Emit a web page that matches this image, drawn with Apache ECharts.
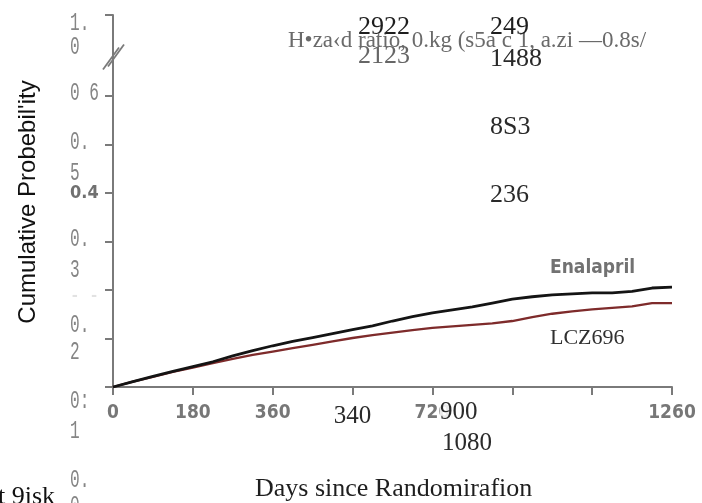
<!DOCTYPE html>
<html>
<head>
<meta charset="utf-8">
<script src="https://cdn.jsdelivr.net/npm/echarts@6/dist/echarts.min.js"></script>
<style>
  html, body { margin: 0; padding: 0; background: #fff; }
  #chart { width: 702px; height: 503px; }
</style>
</head>
<body>
<div id="chart"></div>
<script>
// Follow-up time (days since randomization) at which the curves are sampled
const days = [0, 45, 90, 135, 180, 225, 270, 315, 360, 405, 450, 495, 540, 585, 630,
  675, 720, 765, 810, 855, 900, 945, 990, 1035, 1080, 1125, 1170, 1215, 1260];

// Cumulative probability, enalapril arm
const enalapril = [0, 0.011, 0.022, 0.032, 0.042, 0.052, 0.064, 0.075, 0.085, 0.094,
  0.102, 0.110, 0.118, 0.126, 0.136, 0.145, 0.153, 0.159, 0.165, 0.173,
  0.181, 0.186, 0.190, 0.192, 0.194, 0.194, 0.197, 0.204, 0.206];

// Cumulative probability, LCZ696 arm
const lcz696 = [0, 0.011, 0.021, 0.031, 0.040, 0.049, 0.058, 0.066, 0.073, 0.080,
  0.087, 0.094, 0.101, 0.107, 0.112, 0.117, 0.122, 0.125, 0.128, 0.131,
  0.136, 0.144, 0.151, 0.156, 0.160, 0.163, 0.166, 0.173, 0.173];

// X axis tick labels (one per 180-day tick) and their text style
const xTickText = ['0', '180', '360', '340', '720', '', '', '1260'];
const xTickStyle = ['o', 'o', 'o', 's', 'o', 'o', 'o', 'o'];

// Y axis tick values and labels
const yTickValues = [0, 0.1, 0.2, 0.3, 0.4, 0.5, 0.6, 1.0];
const yTickText = ['0:\n1', '0.\n2', '- -', '0.\n3', '0.4', '0.\n5', '0 6', '1.\n0'];
const yTickStyle = ['m', 'm', 'f', 'm', 'b', 'm', 'm', 'm'];
// Extra label printed below the lowest tick
const yExtraText = '0.\n0';

// Numbers at risk and annotations printed over the plot
const atRiskA = ['2922', '2123'];
const atRiskB = ['249', '1488', '8S3', '236'];
const xOverText = ['900', '1080'];
const headerText = 'H\u2022za\u2039d ratio, 0.kg (s5a c 1, a.zi \u20140.8s/';
const xTitle = 'Days since Randomirafion';
const yTitle = "Cumulative Probebil'ity";

const chart = echarts.init(document.getElementById('chart'), null, { renderer: 'canvas' });

const serif = 'Liberation Serif';
const mono = 'Liberation Mono';
const axisGray = '#7a7a7a';

function xLabel(v) {
  const i = Math.round(v / 180);
  if (Math.abs(i * 180 - v) > 1e-6 || !xTickText[i]) return '';
  return '{' + xTickStyle[i] + '|' + xTickText[i] + '}';
}

const option = {
  animation: false,
  backgroundColor: '#fff',
  grid: { left: 113, right: 30, top: 15, bottom: 116, containLabel: false },
  xAxis: {
    type: 'value',
    min: 0, max: 1260, interval: 180,
    axisLine: { show: true, lineStyle: { color: axisGray, width: 2 } },
    axisTick: { show: true, inside: false, length: 8, lineStyle: { color: axisGray, width: 2 } },
    splitLine: { show: false },
    axisLabel: {
      margin: 17,
      formatter: xLabel,
      rich: {
        o: { fontFamily: 'DejaVu Sans Condensed', fontWeight: 'bold', fontSize: 19, color: '#777' },
        s: { fontFamily: serif, fontSize: 25, color: '#2a2a2a' }
      }
    }
  },
  yAxis: {
    type: 'value',
    min: 0, max: 1.0, interval: 0.1,
    breaks: [{ start: 0.65, end: 0.95, gap: '8.7%' }],
    breakArea: { show: false },
    axisLine: { show: true, lineStyle: { color: axisGray, width: 2 } },
    axisTick: { show: true, length: 8, customValues: yTickValues, lineStyle: { color: axisGray, width: 2 } },
    splitLine: { show: false },
    axisLabel: { show: false }
  },
  series: [
    {
      name: 'Enalapril', type: 'line', showSymbol: false, z: 3,
      data: days.map((d, i) => [d, enalapril[i]]),
      lineStyle: { color: '#141414', width: 2.8 }
    },
    {
      name: 'LCZ696', type: 'line', showSymbol: false, z: 2,
      data: days.map((d, i) => [d, lcz696[i]]),
      lineStyle: { color: '#7e2b2b', width: 2.3 }
    }
  ]
};

chart.setOption(option);

const origin = chart.convertToPixel({ gridIndex: 0 }, [0, 0]);
const ax = origin[0];
const yPx = v => chart.convertToPixel({ gridIndex: 0 }, [0, v])[1];

function txt(x, y, text, style, extra) {
  return Object.assign({ type: 'text', left: x, top: y, z: 20,
    style: Object.assign({ text: text, fill: '#222', font: '26px "' + serif + '"' }, style) }, extra || {});
}

// Y tick labels: narrow monospace lines stacked under each tick
const labelFirstDy = [14, -13, 6, -2, 0, -2, -3, 8];
const labelGap = [30, 27, 0, 31, 0, 31, 0, 24];
const graphics = [];

function monoLines(text, cy, gap, fill) {
  text.split('\n').forEach((line, k) => {
    graphics.push({
      type: 'text', z: 20, x: 70, y: cy + k * gap, scaleX: 0.62,
      style: { text: line, fill: fill, font: '26px "' + mono + '"', align: 'left', verticalAlign: 'middle' }
    });
  });
}

yTickValues.forEach((v, i) => {
  const cy = yPx(v) + labelFirstDy[i];
  const s = yTickStyle[i];
  if (s === 'm') monoLines(yTickText[i], cy, labelGap[i], '#858585');
  else if (s === 'f') monoLines(yTickText[i], cy, 0, '#e2e2e2');
  else graphics.push({
    type: 'text', z: 20, x: 70, y: cy,
    style: { text: yTickText[i], fill: '#707070', font: 'bold 18px "DejaVu Sans Condensed"', align: 'left', verticalAlign: 'middle' }
  });
});
monoLines(yExtraText, yPx(0) + 93, 26, '#858585');

// Continuous axis line across the break, with the double slash
const yTop = yPx(1.0);
const yBrk = yPx(0.8);
graphics.push(
  { type: 'line', z: 9, shape: { x1: ax, y1: yTop, x2: ax, y2: yPx(0.6) }, style: { stroke: axisGray, lineWidth: 2 } },
  { type: 'line', z: 10, shape: { x1: ax - 10, y1: yBrk + 14, x2: ax + 6, y2: yBrk - 8 }, style: { stroke: axisGray, lineWidth: 1.8 } },
  { type: 'line', z: 10, shape: { x1: ax - 5, y1: yBrk + 11, x2: ax + 11, y2: yBrk - 11 }, style: { stroke: axisGray, lineWidth: 1.8 } }
);

graphics.push(
  txt(288, 29, headerText, { fill: '#6a6a6a', font: '23px "' + serif + '"' }),
  txt(358, 14, atRiskA[0], { fill: '#1e1e1e' }),
  txt(358, 43, atRiskA[1], { fill: '#666' }),
  txt(490, 14, atRiskB[0], { fill: '#1e1e1e' }),
  txt(490, 46, atRiskB[1], { fill: '#2a2a2a' }),
  txt(490, 114, atRiskB[2], { fill: '#2a2a2a' }),
  txt(490, 182, atRiskB[3], { fill: '#2a2a2a' }),
  txt(440, 400, xOverText[0], { fill: '#2a2a2a', font: '25px "' + serif + '"', backgroundColor: 'rgba(255,255,255,0.85)' }),
  txt(442, 431, xOverText[1], { fill: '#2a2a2a', font: '25px "' + serif + '"' }),
  txt(255, 476, xTitle, { fill: '#1e1e1e', font: '26px "' + serif + '"' }),
  txt(-2, 484, 't 9isk', { fill: '#111' }),
  txt(550, 259, 'Enalapril', { fill: '#727272', font: 'bold 19px "DejaVu Sans Condensed"' }),
  txt(550, 327, 'LCZ696', { fill: '#303030', font: '22px "' + serif + '"' }),
  { type: 'text', z: 20, x: 28, y: 202, rotation: Math.PI / 2,
    style: { text: yTitle, fill: '#111', font: '24px "Liberation Sans"', align: 'center', verticalAlign: 'middle' } }
);

chart.setOption({ graphic: graphics });
</script>
</body>
</html>
